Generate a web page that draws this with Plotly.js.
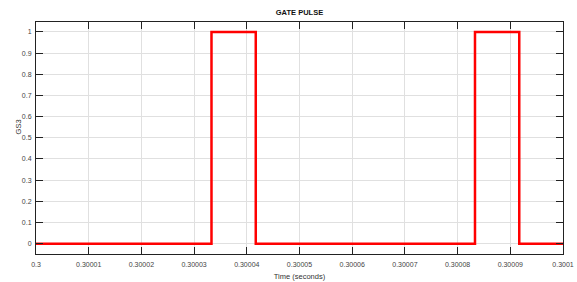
<!DOCTYPE html>
<html><head><meta charset="utf-8">
<script src="https://cdn.plot.ly/plotly-3.0.1.min.js"></script>
<style>html,body{margin:0;padding:0;background:#fff}#c{width:577px;height:282px}</style>
</head><body><div id="c"></div>
<script>
const timeS = [0.3, 0.3000333, 0.3000417, 0.3000833, 0.3000917, 0.3001];
const gs3 = [0, 1, 0, 1, 0, 0];
const xTickVals = [0.3, 0.30001, 0.30002, 0.30003, 0.30004, 0.30005, 0.30006, 0.30007, 0.30008, 0.30009, 0.3001];
const xTickText = ["0.3", "0.30001", "0.30002", "0.30003", "0.30004", "0.30005", "0.30006", "0.30007", "0.30008", "0.30009", "0.3001"];
const yTickVals = [0, 0.1, 0.2, 0.3, 0.4, 0.5, 0.6, 0.7, 0.8, 0.9, 1];
const yTickText = ["0", "0.1", "0.2", "0.3", "0.4", "0.5", "0.6", "0.7", "0.8", "0.9", "1"];

const F = '"Liberation Sans", Arial, sans-serif';
const trace = {x: timeS, y: gs3, mode: 'lines', line: {shape: 'hv', color: '#ff0000', width: 2.5}, hoverinfo: 'skip'};
const axisCommon = {
  showline: true, linecolor: '#222', linewidth: 1, mirror: 'ticks',
  ticks: 'inside', ticklen: 7, tickcolor: '#222', tickwidth: 1,
  showgrid: true, gridcolor: '#e0e0e0', gridwidth: 1, zeroline: false,
  tickfont: {family: F, size: 7, color: '#444'}
};
const layout = {
  width: 577, height: 282,
  margin: {l: 36, r: 14, t: 22, b: 28, pad: 0},
  paper_bgcolor: '#fff', plot_bgcolor: '#fff',
  showlegend: false,
  title: {text: '<b>GATE PULSE</b>', font: {family: F, size: 7.5, color: '#111'}, x: 0.519, xanchor: 'center', y: 0.955, yanchor: 'middle'},
  xaxis: Object.assign({}, axisCommon, {
    range: [0.3, 0.3001], tickmode: 'array', tickvals: xTickVals, ticktext: xTickText,
    ticklabelstandoff: 4,
    title: {text: 'Time (seconds)', font: {family: F, size: 7.5, color: '#333'}, standoff: 6}
  }),
  yaxis: Object.assign({}, axisCommon, {
    range: [-0.049, 1.047], tickmode: 'array', tickvals: yTickVals, ticktext: yTickText,
    ticklabelstandoff: 2
  }),
  annotations: [{
    text: 'GS3', xref: 'paper', yref: 'paper', x: -0.0342, y: 0.55,
    xanchor: 'center', yanchor: 'middle', textangle: -90, showarrow: false,
    font: {family: F, size: 7.5, color: '#333'}
  }]
};
Plotly.newPlot('c', [trace], layout, {staticPlot: true, displayModeBar: false});
</script></body></html>
